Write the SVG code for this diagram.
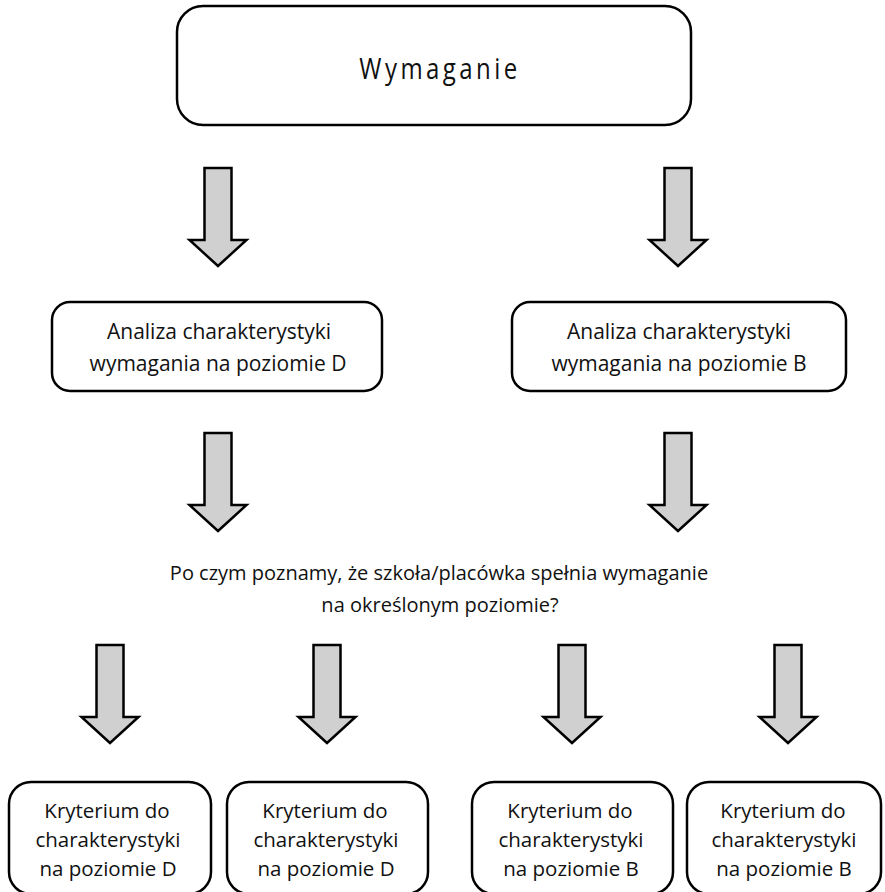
<svg xmlns="http://www.w3.org/2000/svg" xmlns:xlink="http://www.w3.org/1999/xlink" width="885" height="892" viewBox="0 0 885 892">
<style>
.box{fill:#fff;stroke:#000;stroke-width:2.5}
.t{font-family:"Open Sans","Noto Sans",sans-serif;font-size:20.5px;fill:#111;text-anchor:middle}
.tb{font-size:21px}
.tq{font-size:20px}
.title{font-family:"Open Sans","Noto Sans",sans-serif;font-size:30px;letter-spacing:4.3px;fill:#111;text-anchor:middle}
.arrow{fill:#d0d0d0;stroke:#000;stroke-width:2.5;stroke-linejoin:miter}
</style>
<defs>
<path id="arr" class="arrow" d="M-13.5,0 H13.5 V72 H28.5 L0,98 L-28.5,72 H-13.5 Z"/>
</defs>
<rect width="885" height="892" fill="#fff"/>
<g id="connectors">
<use xlink:href="#arr" x="218" y="168"/>
<use xlink:href="#arr" x="678" y="168"/>
<use xlink:href="#arr" x="218" y="433"/>
<use xlink:href="#arr" x="678" y="433"/>
<use xlink:href="#arr" x="110" y="645"/>
<use xlink:href="#arr" x="327" y="645"/>
<use xlink:href="#arr" x="572" y="645"/>
<use xlink:href="#arr" x="788" y="645"/>
</g>
<g id="wymaganie">
<rect class="box" x="177" y="6" width="514" height="119" rx="26"/>
<text class="title" transform="scale(0.8,1)" x="550" y="79">Wymaganie</text>
</g>
<g id="analiza-d">
<rect class="box" x="52" y="302" width="330" height="89" rx="18"/>
<text class="t tb" x="219" y="339">Analiza charakterystyki</text>
<text class="t tb" x="218" y="371">wymagania na poziomie D</text>
</g>
<g id="analiza-b">
<rect class="box" x="512" y="302" width="334" height="89" rx="18"/>
<text class="t tb" x="679" y="339">Analiza charakterystyki</text>
<text class="t tb" x="679" y="371">wymagania na poziomie B</text>
</g>
<g id="pytanie">
<text class="t tq" x="439" y="580">Po czym poznamy, że szkoła/placówka spełnia wymaganie</text>
<text class="t tq" x="440" y="612">na określonym poziomie?</text>
</g>
<g id="kryterium-d1">
<rect class="box" x="9" y="782" width="202" height="112" rx="22"/>
<text class="t" x="107" y="818">Kryterium do</text>
<text class="t" x="108" y="847">charakterystyki</text>
<text class="t" x="108" y="876">na poziomie D</text>
</g>
<g id="kryterium-d2">
<rect class="box" x="227" y="782" width="201" height="112" rx="22"/>
<text class="t" x="325" y="818">Kryterium do</text>
<text class="t" x="326" y="847">charakterystyki</text>
<text class="t" x="326" y="876">na poziomie D</text>
</g>
<g id="kryterium-b1">
<rect class="box" x="472" y="782" width="201" height="112" rx="22"/>
<text class="t" x="570" y="818">Kryterium do</text>
<text class="t" x="571" y="847">charakterystyki</text>
<text class="t" x="571" y="876">na poziomie B</text>
</g>
<g id="kryterium-b2">
<rect class="box" x="687" y="782" width="194" height="112" rx="22"/>
<text class="t" x="783" y="818">Kryterium do</text>
<text class="t" x="784" y="847">charakterystyki</text>
<text class="t" x="784" y="876">na poziomie B</text>
</g>
</svg>
